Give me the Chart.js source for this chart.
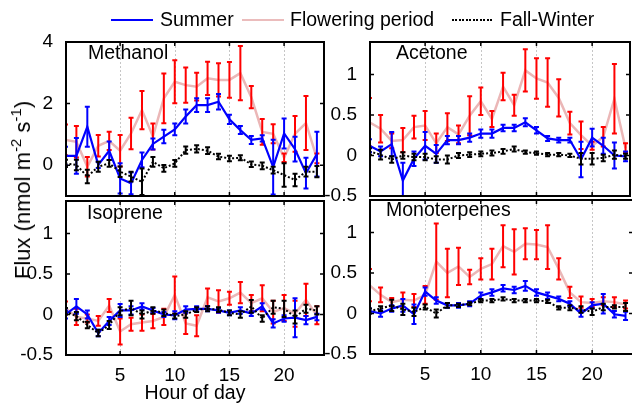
<!DOCTYPE html>
<html>
<head>
<meta charset="utf-8">
<script src="https://cdn.jsdelivr.net/npm/chart.js@4.4.0/dist/chart.umd.min.js"></script>
<style>
  html, body { margin: 0; padding: 0; background: #fff; }
  #wrap { position: relative; width: 632px; height: 403px; overflow: hidden;
          font-family: "Liberation Sans", Arial, sans-serif; color: #000; }
  #wrap canvas { position: absolute; left: 0; top: 0; }
  .txt { position: absolute; font-size: 19.5px; line-height: 19px; white-space: nowrap; }
  .key { position: absolute; height: 2px; width: 42px; top: 19px; }
  #ytitle { position: absolute; left: 24px; top: 190px; font-size: 22px; line-height: 20px;
            white-space: nowrap; transform: translate(-50%, -50%) rotate(-90deg); }
  #ytitle sup { font-size: 15px; vertical-align: 0; position: relative; top: -9px; }
</style>
</head>
<body>
<div id="wrap">
  <canvas id="methanol" width="640" height="403"></canvas>
  <canvas id="acetone" width="640" height="403"></canvas>
  <canvas id="isoprene" width="640" height="403"></canvas>
  <canvas id="monoterpenes" width="640" height="403"></canvas>

  <div class="key" style="left:111px;background:#0000ff;"></div>
  <div class="txt" style="left:160px;top:10px;">Summer</div>
  <div class="key" style="left:242px;background:#ebbcbc;"></div>
  <div class="txt" style="left:290px;top:10px;">Flowering period</div>
  <div class="key" style="left:452px;background:repeating-linear-gradient(90deg,#000 0 2px,transparent 2px 3.5px);"></div>
  <div class="txt" style="left:500px;top:10px;">Fall-Winter</div>

  <div class="txt" style="left:88px;top:43px;">Methanol</div>
  <div class="txt" style="left:396px;top:43px;">Acetone</div>
  <div class="txt" style="left:87px;top:203px;">Isoprene</div>
  <div class="txt" style="left:386px;top:200px;">Monoterpenes</div>

  <div id="ytitle">Flux (nmol m<sup>-2</sup> s<sup>-1</sup>)</div>
  <div class="txt" style="left:195px;top:383px;transform:translateX(-50%);">Hour of day</div>
</div>

<script>
// Hour of day for every series
const hours = [0, 1, 2, 3, 4, 5, 6, 7, 8, 9, 10, 11, 12, 13, 14, 15, 16, 17, 18, 19, 20, 21, 22, 23];
const hourTicks = [5, 10, 15, 20];
const methanolTicks = [0, 2, 4];
const fluxTicks = [-0.5, 0, 0.5, 1];

// Methanol flux (nmol m-2 s-1): hourly mean and error half-width
const methanolSummer = [0.30, 0.30, 1.25, 0.01, 0.47, -0.43, -0.59, 0.17, 0.69, 0.93, 1.16, 1.58, 1.95, 1.95, 2.06, 1.49, 1.14, 0.82, 0.87, -0.06, 1.03, 0.52, -0.26, 0.36];
const methanolSummerErr = [0.30, 0.58, 0.65, 0.10, 0.30, 0.49, 0.35, 0.24, 0.18, 0.22, 0.19, 0.23, 0.22, 0.22, 0.25, 0.15, 0.13, 0.13, 0.10, 0.89, 0.49, 0.40, 0.50, 0.73];
const methanolFlowering = [0.82, 0.76, -0.05, 0.63, 0.79, 0.47, 1.03, 1.79, 0.93, 2.17, 2.71, 2.60, 2.55, 2.82, 2.77, 2.77, 2.99, 2.21, 1.08, 1.02, 0.24, 1.02, 1.37, 0.22];
const methanolFloweringErr = [0.50, 0.51, 0.32, 0.35, 0.30, 0.51, 0.51, 0.62, 0.42, 0.81, 0.70, 0.57, 0.45, 0.54, 0.54, 0.58, 0.88, 0.36, 0.42, 0.31, 0.14, 0.58, 0.88, 0.16];
const methanolFallWinter = [0.06, 0.01, -0.37, -0.05, 0.06, -0.21, -0.37, -0.54, 0.11, -0.10, 0.06, 0.49, 0.53, 0.47, 0.28, 0.22, 0.24, 0.03, -0.02, -0.16, -0.32, -0.48, -0.21, -0.21];
const methanolFallWinterErr = [0.12, 0.17, 0.22, 0.16, 0.11, 0.17, 0.16, 0.43, 0.16, 0.11, 0.11, 0.12, 0.12, 0.11, 0.09, 0.09, 0.08, 0.09, 0.11, 0.11, 0.38, 0.20, 0.16, 0.18];

// Acetone
const acetoneSummer = [0.12, 0.05, 0.14, -0.31, -0.04, 0.12, 0.02, 0.19, 0.19, 0.22, 0.27, 0.27, 0.34, 0.34, 0.41, 0.31, 0.21, 0.19, 0.19, -0.05, 0.22, 0.12, 0.00, -0.01];
const acetoneSummerErr = [0.08, 0.06, 0.15, 0.22, 0.09, 0.17, 0.11, 0.05, 0.05, 0.05, 0.05, 0.05, 0.04, 0.04, 0.05, 0.04, 0.03, 0.03, 0.03, 0.22, 0.11, 0.10, 0.16, 0.06];
const acetoneFlowering = [0.41, 0.33, 0.18, 0.19, 0.35, 0.37, 0.15, 0.35, 0.26, 0.49, 0.67, 0.45, 0.85, 0.62, 1.05, 0.95, 0.90, 0.71, 0.40, 0.25, 0.12, 0.23, 0.70, 0.09];
const acetoneFloweringErr = [0.30, 0.17, 0.09, 0.15, 0.14, 0.18, 0.12, 0.17, 0.11, 0.24, 0.17, 0.10, 0.17, 0.13, 0.26, 0.25, 0.30, 0.23, 0.14, 0.17, 0.05, 0.12, 0.43, 0.06];
const acetoneFallWinter = [0.05, 0.01, -0.05, 0.00, -0.02, -0.02, -0.05, -0.05, 0.00, 0.01, 0.02, 0.03, 0.05, 0.08, 0.04, 0.03, 0.01, 0.01, 0.00, -0.04, -0.04, -0.03, 0.01, -0.01];
const acetoneFallWinterErr = [0.04, 0.06, 0.04, 0.04, 0.04, 0.04, 0.04, 0.05, 0.03, 0.03, 0.03, 0.03, 0.03, 0.03, 0.02, 0.02, 0.02, 0.02, 0.02, 0.07, 0.07, 0.04, 0.05, 0.03];

// Isoprene
const isopreneSummer = [0.00, 0.10, 0.00, -0.23, -0.08, 0.05, 0.05, 0.10, 0.05, 0.00, -0.01, 0.06, 0.07, 0.07, 0.05, 0.02, 0.05, 0.01, 0.10, -0.11, -0.05, -0.04, -0.07, -0.03];
const isopreneSummerErr = [0.05, 0.09, 0.05, 0.04, 0.05, 0.08, 0.05, 0.04, 0.03, 0.03, 0.05, 0.04, 0.03, 0.03, 0.03, 0.03, 0.04, 0.03, 0.04, 0.05, 0.04, 0.24, 0.05, 0.04];
const isopreneFlowering = [0.08, -0.03, -0.05, -0.08, 0.11, -0.21, -0.12, -0.10, -0.08, -0.03, 0.24, -0.11, -0.14, 0.21, 0.16, 0.20, 0.27, 0.14, 0.20, 0.03, 0.08, 0.01, 0.18, -0.01];
const isopreneFloweringErr = [0.08, 0.10, 0.05, 0.06, 0.08, 0.16, 0.08, 0.10, 0.09, 0.10, 0.23, 0.13, 0.13, 0.11, 0.14, 0.08, 0.13, 0.10, 0.16, 0.14, 0.16, 0.16, 0.20, 0.11];
const isopreneFallWinter = [0.04, -0.02, -0.13, -0.23, -0.13, 0.04, 0.08, 0.00, 0.05, 0.02, -0.02, 0.00, 0.06, 0.07, 0.06, 0.02, 0.00, 0.10, -0.05, 0.09, 0.07, -0.03, 0.07, 0.05];
const isopreneFallWinterErr = [0.04, 0.05, 0.04, 0.04, 0.05, 0.05, 0.09, 0.05, 0.04, 0.04, 0.03, 0.04, 0.03, 0.03, 0.03, 0.03, 0.04, 0.08, 0.04, 0.08, 0.10, 0.08, 0.05, 0.05];

// Monoterpenes
const monoterpenesSummer = [0.03, 0.00, 0.06, 0.10, -0.01, 0.27, 0.16, 0.10, 0.10, 0.12, 0.22, 0.26, 0.31, 0.29, 0.34, 0.26, 0.22, 0.18, 0.12, 0.00, 0.10, 0.12, -0.01, -0.03];
const monoterpenesSummerErr = [0.03, 0.04, 0.04, 0.08, 0.12, 0.05, 0.04, 0.03, 0.03, 0.03, 0.04, 0.04, 0.04, 0.04, 0.06, 0.04, 0.04, 0.03, 0.03, 0.04, 0.04, 0.12, 0.04, 0.05];
const monoterpenesFlowering = [0.35, 0.23, 0.14, 0.17, 0.16, 0.23, 0.64, 0.50, 0.58, 0.45, 0.55, 0.61, 0.83, 0.76, 0.86, 0.85, 0.82, 0.55, 0.26, 0.14, 0.13, 0.15, 0.14, 0.11];
const monoterpenesFloweringErr = [0.20, 0.09, 0.05, 0.09, 0.08, 0.11, 0.47, 0.30, 0.23, 0.09, 0.13, 0.19, 0.26, 0.28, 0.19, 0.18, 0.27, 0.13, 0.07, 0.07, 0.05, 0.05, 0.06, 0.05];
const monoterpenesFallWinter = [0.03, 0.06, 0.10, 0.05, 0.02, 0.08, 0.00, 0.10, 0.10, 0.12, 0.16, 0.16, 0.18, 0.16, 0.16, 0.16, 0.15, 0.07, 0.07, 0.05, 0.02, 0.08, 0.08, 0.08];
const monoterpenesFallWinterErr = [0.03, 0.03, 0.07, 0.07, 0.05, 0.03, 0.05, 0.03, 0.02, 0.02, 0.02, 0.02, 0.02, 0.02, 0.02, 0.02, 0.02, 0.02, 0.03, 0.04, 0.04, 0.04, 0.02, 0.05];

const FONT = "'Liberation Sans', Arial, sans-serif";
Chart.defaults.font.family = FONT;

// Vertical dotted hour grid, boxed frame and inward tick marks
const framePlugin = {
  id: 'panelFrame',
  beforeDatasetsDraw(chart) {
    const { ctx, chartArea: a, scales: { x } } = chart;
    ctx.save();
    ctx.strokeStyle = '#c6c6c6';
    ctx.lineWidth = 1;
    ctx.setLineDash([2, 2]);
    for (const v of hourTicks) {
      const px = Math.round(x.getPixelForValue(v)) + 0.5;
      ctx.beginPath();
      ctx.moveTo(px, a.top);
      ctx.lineTo(px, a.bottom);
      ctx.stroke();
    }
    ctx.restore();
  },
  afterDraw(chart) {
    const { ctx, chartArea: a, scales: { x, y } } = chart;
    ctx.save();
    ctx.setLineDash([]);
    ctx.strokeStyle = '#000000';
    ctx.lineWidth = 2;
    ctx.beginPath();
    ctx.rect(a.left, a.top, a.right - a.left, a.bottom - a.top);
    ctx.stroke();
    ctx.lineWidth = 1.5;
    ctx.beginPath();
    for (const v of hourTicks) {
      const px = x.getPixelForValue(v);
      ctx.moveTo(px, a.bottom); ctx.lineTo(px, a.bottom - 4);
      ctx.moveTo(px, a.top); ctx.lineTo(px, a.top + 4);
    }
    for (const t of y.ticks) {
      const py = y.getPixelForValue(t.value);
      ctx.moveTo(a.left, py); ctx.lineTo(a.left + 4, py);
      ctx.moveTo(a.right, py); ctx.lineTo(a.right - 4, py);
    }
    ctx.stroke();
    ctx.restore();
  }
};

// Capped vertical error bars, one per hourly mean
const errorBarPlugin = {
  id: 'errorBars',
  afterDatasetDraw(chart, args) {
    const ds = chart.data.datasets[args.index];
    if (!ds.errors) return;
    const { ctx, chartArea: a, scales: { x, y } } = chart;
    ctx.save();
    ctx.beginPath();
    ctx.rect(a.left, a.top, a.right - a.left, a.bottom - a.top);
    ctx.clip();
    ctx.strokeStyle = ds.errorColor;
    ctx.lineWidth = 2;
    ctx.setLineDash([]);
    ctx.beginPath();
    ds.data.forEach((p, i) => {
      const e = ds.errors[i];
      const px = x.getPixelForValue(p.x);
      const top = y.getPixelForValue(p.y + e);
      const bot = y.getPixelForValue(p.y - e);
      ctx.moveTo(px, top); ctx.lineTo(px, bot);
      ctx.moveTo(px - 2.5, top); ctx.lineTo(px + 2.5, top);
      ctx.moveTo(px - 2.5, bot); ctx.lineTo(px + 2.5, bot);
    });
    ctx.stroke();
    ctx.restore();
  }
};

const points = vals => hours.map((h, i) => ({ x: h, y: vals[i] }));

function panel(id, area, xRange, yRange, yTicks, showX, s) {
  const W = 640, H = 403, yAxisW = 60, xAxisH = 30;
  new Chart(document.getElementById(id), {
    type: 'line',
    data: {
      datasets: [
        { label: 'Fall-Winter', data: points(s.fw), errors: s.fwErr, errorColor: '#000000',
          borderColor: '#000000', borderWidth: 2, borderDash: [2, 2], clip: 0 },
        { label: 'Summer', data: points(s.su), errors: s.suErr, errorColor: '#0000ff',
          borderColor: '#0000ff', borderWidth: 2.2, clip: 0 },
        { label: 'Flowering period', data: points(s.fl), errors: s.flErr, errorColor: '#ff0000',
          borderColor: '#ebb7b7', borderWidth: 2.5, clip: 0 }
      ]
    },
    options: {
      responsive: false,
      animation: false,
      devicePixelRatio: 1,
      layout: { padding: {
        left: area.left - yAxisW,
        top: area.top,
        right: W - area.right,
        bottom: H - area.bottom - (showX ? xAxisH : 0)
      } },
      plugins: { legend: { display: false }, tooltip: { enabled: false } },
      elements: { point: { radius: 0 }, line: { tension: 0 } },
      scales: {
        x: {
          type: 'linear', min: xRange[0], max: xRange[1], display: showX,
          grid: { display: false }, border: { display: false },
          ticks: { color: '#000', font: { size: 19 }, padding: 1, maxRotation: 0,
                   callback: v => String(v) },
          afterBuildTicks: sc => { sc.ticks = hourTicks.map(v => ({ value: v })); },
          afterFit: sc => { sc.height = showX ? xAxisH : 0; }
        },
        y: {
          type: 'linear', min: yRange[0], max: yRange[1],
          grid: { display: false }, border: { display: false },
          ticks: { color: '#000', font: { size: 19 }, padding: 5, callback: v => String(v) },
          afterBuildTicks: sc => { sc.ticks = yTicks.map(v => ({ value: v })); },
          afterFit: sc => { sc.width = yAxisW; }
        }
      }
    },
    plugins: [framePlugin, errorBarPlugin]
  });
}

panel('methanol', { left: 66, top: 42, right: 324, bottom: 196 }, [0.05, 23.65], [-1, 4], methanolTicks, false,
  { su: methanolSummer, suErr: methanolSummerErr, fl: methanolFlowering, flErr: methanolFloweringErr,
    fw: methanolFallWinter, fwErr: methanolFallWinterErr });
panel('acetone', { left: 370, top: 42, right: 630, bottom: 196 }, [0.05, 23.4], [-0.5, 1.4], fluxTicks, false,
  { su: acetoneSummer, suErr: acetoneSummerErr, fl: acetoneFlowering, flErr: acetoneFloweringErr,
    fw: acetoneFallWinter, fwErr: acetoneFallWinterErr });
panel('isoprene', { left: 66, top: 201, right: 324, bottom: 355 }, [0.05, 23.65], [-0.5, 1.4], fluxTicks, true,
  { su: isopreneSummer, suErr: isopreneSummerErr, fl: isopreneFlowering, flErr: isopreneFloweringErr,
    fw: isopreneFallWinter, fwErr: isopreneFallWinterErr });
panel('monoterpenes', { left: 370, top: 200, right: 633, bottom: 354 }, [0.05, 23.67], [-0.5, 1.4], fluxTicks, true,
  { su: monoterpenesSummer, suErr: monoterpenesSummerErr, fl: monoterpenesFlowering, flErr: monoterpenesFloweringErr,
    fw: monoterpenesFallWinter, fwErr: monoterpenesFallWinterErr });
</script>
</body>
</html>
